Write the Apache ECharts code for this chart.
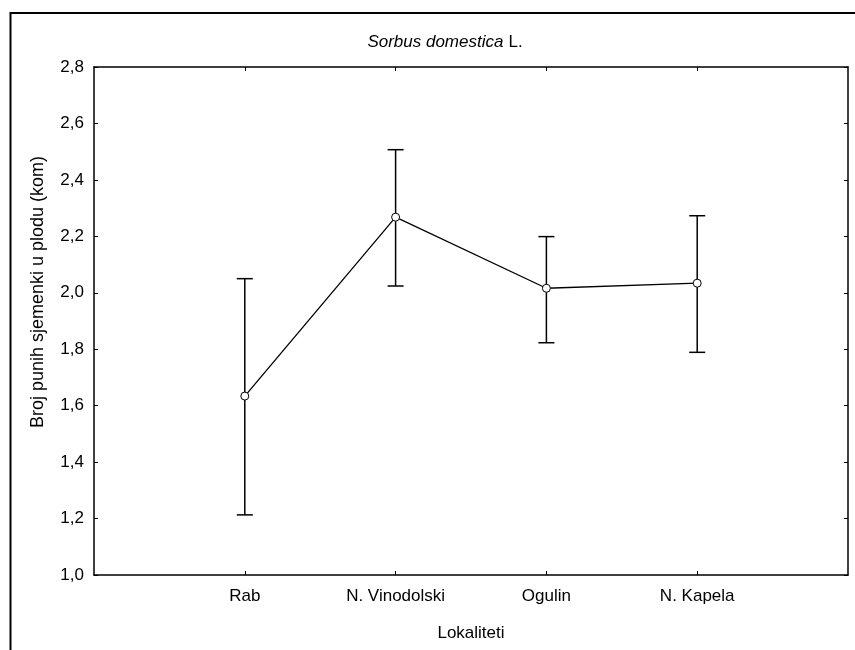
<!DOCTYPE html>
<html>
<head>
<meta charset="utf-8">
<script src="https://cdn.jsdelivr.net/npm/echarts@6/dist/echarts.min.js"></script>
<style>html,body{margin:0;padding:0;background:#fff}#c{width:855px;height:650px}</style>
</head>
<body>
<div id="c"></div>
<script>
var categories = ['', 'Rab', 'N. Vinodolski', 'Ogulin', 'N. Kapela', ''];
var means = [1.634, 2.268, 2.016, 2.034];
var lowers = [1.213, 2.024, 1.823, 1.789];
var uppers = [2.050, 2.507, 2.199, 2.273];
var yTicks = [1.0, 1.2, 1.4, 1.6, 1.8, 2.0, 2.2, 2.4, 2.6, 2.8];
var yName = 'Broj punih sjemenki u plodu (kom)';
var xName = 'Lokaliteti';

var meanData = means.map(function (v, i) { return [i + 1, v]; });
var errData = means.map(function (v, i) { return [i + 1, lowers[i], uppers[i]]; });

var chart = echarts.init(document.getElementById('c'));
var font = 'Liberation Sans, Arial, sans-serif';
var fs = 17;
chart.setOption({
  animation: false,
  backgroundColor: '#fff',
  textStyle: { fontFamily: font },
  title: {
    text: '{i|Sorbus domestica} {n|L.}',
    left: 440, top: 28, textAlign: 'center',
    textStyle: {
      fontWeight: 'normal',
      rich: {
        i: { fontStyle: 'italic', fontWeight: 'normal', fontSize: fs, color: '#000', fontFamily: font },
        n: { fontWeight: 'normal', fontSize: fs, color: '#000', fontFamily: font }
      }
    }
  },
  graphic: [{
    type: 'rect', shape: { x: 10.5, y: 13, width: 900, height: 700 },
    style: { fill: 'none', stroke: '#000', lineWidth: 2 }, silent: true
  }, {
    type: 'text', x: 38, y: 292, rotation: Math.PI / 2,
    style: { text: yName, fontSize: 18, fontFamily: font, fill: '#000',
      align: 'center', verticalAlign: 'middle' }, silent: true
  }],
  grid: { left: 94, top: 67, right: 7, bottom: 75 },
  xAxis: [{
    type: 'category', data: categories, boundaryGap: false,
    name: xName, nameLocation: 'middle', nameGap: 50,
    nameTextStyle: { fontSize: fs, color: '#000', fontFamily: font },
    axisLine: { lineStyle: { color: '#000', width: 1.5 } },
    axisTick: { inside: true, length: 4, lineStyle: { color: '#000' },
      interval: function (i) { return i > 0 && i < 5; } },
    axisLabel: { fontSize: fs, color: '#000', margin: 13, fontFamily: font },
    splitLine: { show: false }
  }, {
    type: 'category', data: categories, boundaryGap: false, position: 'top',
    axisLine: { lineStyle: { color: '#000', width: 1.5 } },
    axisTick: { inside: true, length: 4, lineStyle: { color: '#000' },
      interval: function (i) { return i > 0 && i < 5; } },
    axisLabel: { show: false }
  }],
  yAxis: [{
    type: 'value', min: 1.0, max: 2.8, interval: 0.2,
    axisLine: { show: true, lineStyle: { color: '#000', width: 1.5 } },
    axisTick: { show: true, inside: true, length: 4, lineStyle: { color: '#000' } },
    axisLabel: { fontSize: fs, color: '#000', margin: 10, fontFamily: font,
      formatter: function (v) { return v.toFixed(1).replace('.', ','); } },
    splitLine: { show: false }
  }, {
    type: 'value', min: 1.0, max: 2.8, interval: 0.2, position: 'right',
    axisLine: { show: true, lineStyle: { color: '#000', width: 1.5 } },
    axisTick: { show: true, inside: true, length: 4, lineStyle: { color: '#000' } },
    axisLabel: { show: false },
    splitLine: { show: false }
  }],
  series: [{
    type: 'custom',
    data: errData,
    z: 2,
    renderItem: function (params, api) {
      var x = api.value(0);
      var lo = api.coord([x, api.value(1)]);
      var hi = api.coord([x, api.value(2)]);
      var hw = 8;
      var st = { stroke: '#000', lineWidth: 1.5 };
      return {
        type: 'group',
        children: [
          { type: 'line', shape: { x1: lo[0], y1: lo[1], x2: hi[0], y2: hi[1] }, style: st },
          { type: 'line', shape: { x1: lo[0] - hw, y1: lo[1], x2: lo[0] + hw, y2: lo[1] }, style: st },
          { type: 'line', shape: { x1: hi[0] - hw, y1: hi[1], x2: hi[0] + hw, y2: hi[1] }, style: st }
        ]
      };
    }
  }, {
    type: 'line',
    data: meanData,
    z: 3,
    symbol: 'circle', symbolSize: 8,
    lineStyle: { color: '#000', width: 1.3 },
    itemStyle: { color: '#fff', borderColor: '#000', borderWidth: 1 }
  }]
});
</script>
</body>
</html>
